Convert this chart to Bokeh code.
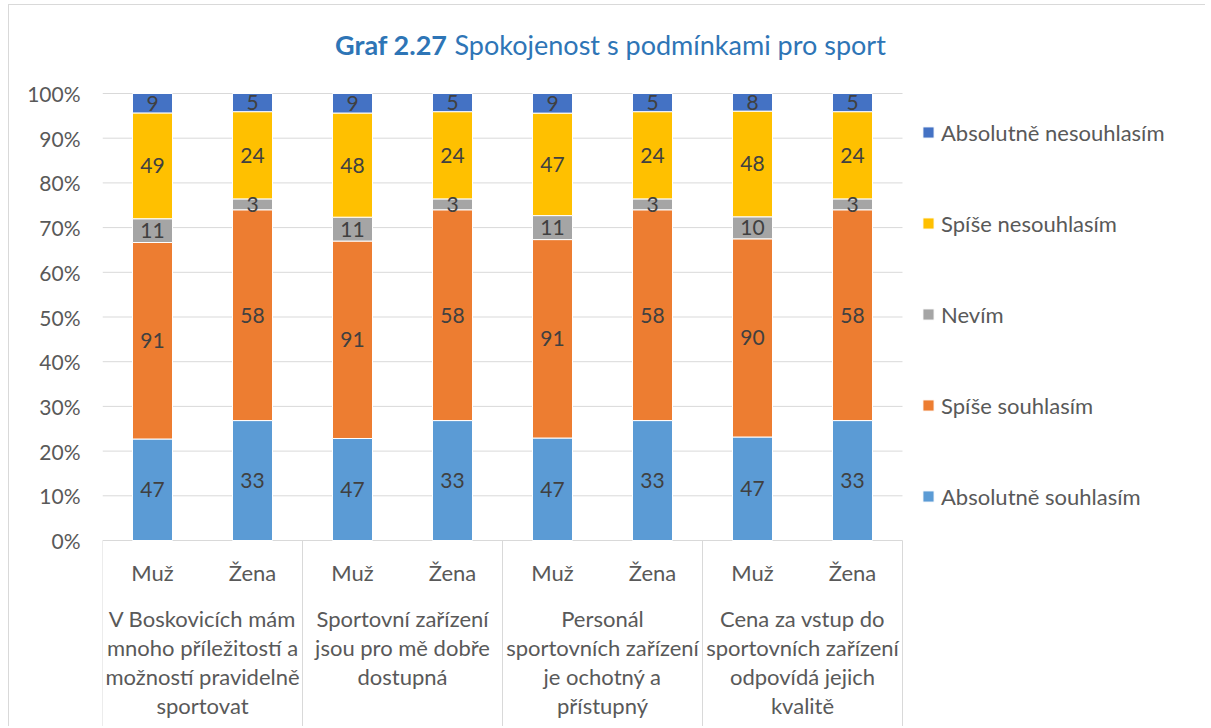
import numpy as np
from bokeh.plotting import figure
from bokeh.models import (ColumnDataSource, Range1d, FixedTicker, NumeralTickFormatter,
                          Legend, LegendItem)
from bokeh.core.properties import value
from bokeh.embed import file_html
from bokeh.resources import INLINE

# ---------------- data ----------------
group_labels = [
    ["V Boskovicích mám", "mnoho příležitostí a", "možností pravidelně", "sportovat"],
    ["Sportovní zařízení", "jsou pro mě dobře", "dostupná"],
    ["Personál", "sportovních zařízení", "je ochotný a", "přístupný"],
    ["Cena za vstup do", "sportovních zařízení", "odpovídá jejich", "kvalitě"],
]
genders = ["Muž", "Žena"]
series_names = ["Absolutně souhlasím", "Spíše souhlasím", "Nevím",
                "Spíše nesouhlasím", "Absolutně nesouhlasím"]
abs_souhlas = [47, 33, 47, 33, 47, 33, 47, 33]
spise_souhlas = [91, 58, 91, 58, 91, 58, 90, 58]
nevim = [11, 3, 11, 3, 11, 3, 10, 3]
spise_nesouhlas = [49, 24, 48, 24, 47, 24, 48, 24]
abs_nesouhlas = [9, 5, 9, 5, 9, 5, 8, 5]
y_ticks = [0.0, 0.1, 0.2, 0.3, 0.4, 0.5, 0.6, 0.7, 0.8, 0.9, 1.0]
title_bold = "Graf 2.27"
title_rest = "Spokojenost s podmínkami pro sport"

colors = ["#5B9BD5", "#ED7D31", "#A5A5A5", "#FFC000", "#4472C4"]
FONT = "Lato"
TEXT_GREY = "#595959"
LABEL_GREY = "#404040"
GRID = "#D9D9D9"

# ---------------- layout ----------------
W, H = 1205, 726
LEFT = 102         # frame left (px inside canvas)
PX_X = 100         # px per category slot
PX_Y = 447         # px per 100 %
TOP = 93           # px from canvas top to the 100 % line

x_end = (W - LEFT) / PX_X
y_end = 1 + TOP / PX_Y
y_start = -(H - TOP - PX_Y) / PX_Y

counts = np.array([abs_souhlas, spise_souhlas, nevim, spise_nesouhlas, abs_nesouhlas], dtype=float)
totals = counts.sum(axis=0)
fracs = counts / totals
n = counts.shape[1]
xs = np.arange(n) + 0.5

keys = ["s%d" % i for i in range(len(series_names))]
src = ColumnDataSource(dict(x=xs, **{k: fracs[i] for i, k in enumerate(keys)}))

p = figure(width=W, height=H, x_range=Range1d(0, x_end), y_range=Range1d(y_start, y_end),
           output_backend="svg", toolbar_location=None, x_axis_location=None,
           min_border_left=LEFT, min_border_right=0, min_border_top=0, min_border_bottom=0)
p.outline_line_color = None
p.xgrid.visible = False
p.ygrid.visible = False
p.background_fill_alpha = 0
p.border_fill_alpha = 0
p.styles = {
    "background": "linear-gradient(#d9d9d9, #d9d9d9) 8px 4px / 1px 100% no-repeat, "
                  "linear-gradient(#d9d9d9, #d9d9d9) 8px 4px / 100% 1px no-repeat, white"
}

# gridlines
grid_y = [t for t in y_ticks if t > 0]
p.segment(x0=[0] * len(grid_y), x1=[n] * len(grid_y), y0=grid_y, y1=grid_y,
          line_color=GRID, line_width=1)
# category axis line + separators
p.segment(x0=[0], x1=[n], y0=[0], y1=[0], line_color=GRID, line_width=1)
sep_x = list(range(0, n + 1, 2))
p.segment(x0=sep_x, x1=sep_x, y0=[0] * len(sep_x), y1=[y_start] * len(sep_x),
          line_color=GRID, line_width=1)

# bars
rends = p.vbar_stack(keys, x="x", width=0.4, color=colors, source=src,
                     line_color="white", line_width=1)

# data labels
lx, ly, lt = [], [], []
cum = np.zeros(n)
for i in range(len(series_names)):
    mid = cum + fracs[i] / 2
    for j in range(n):
        lx.append(xs[j]); ly.append(mid[j]); lt.append(str(int(counts[i, j])))
    cum = cum + fracs[i]
p.text(x=lx, y=ly, text=lt, text_align="center", text_baseline="middle",
       text_font=value(FONT), text_font_size="21px", text_color=LABEL_GREY)

# gender labels
p.text(x=list(xs), y=[-0.0716] * n, text=genders * (n // 2), text_align="center",
       text_baseline="middle", text_font=value(FONT), text_font_size="22px",
       text_color=TEXT_GREY)

# group labels (multi-line)
gx, gy, gt = [], [], []
for gi, lines in enumerate(group_labels):
    for li, line in enumerate(lines):
        gx.append(2 * gi + 1)
        gy.append(-0.174 - li * 0.0649)
        gt.append(line)
p.text(x=gx, y=gy, text=gt, text_align="center", text_baseline="middle",
       text_font=value(FONT), text_font_size="22px", text_color=TEXT_GREY)

# title
p.text(x=[3.45], y=[1.1096], text=[title_bold], text_align="right", text_baseline="alphabetic",
       text_font=value(FONT), text_font_size="27px", text_font_style="bold",
       text_color="#2E75B6")
p.text(x=[3.52], y=[1.1096], text=[title_rest], text_align="left", text_baseline="alphabetic",
       text_font=value(FONT), text_font_size="27px", text_color="#2E75B6")

# y axis
ax = p.yaxis[0]
ax.ticker = FixedTicker(ticks=y_ticks)
ax.formatter = NumeralTickFormatter(format="0%")
ax.major_label_text_font = FONT
ax.major_label_text_font_size = "21px"
ax.major_label_text_color = TEXT_GREY
ax.axis_line_color = None
ax.major_tick_line_color = None
ax.minor_tick_line_color = None
ax.major_tick_out = 0
ax.major_tick_in = 0
ax.major_label_standoff = 22

# legend
items = [LegendItem(label=series_names[i], renderers=[rends[i]])
         for i in reversed(range(len(series_names)))]
legend = Legend(items=items, location=(819, H - 510), orientation="vertical",
                glyph_width=14, glyph_height=14, label_height=28, label_standoff=6,
                spacing=63, padding=0, margin=0, border_line_color=None,
                background_fill_alpha=0, label_text_font=FONT,
                label_text_font_size="22px", label_text_color=TEXT_GREY)
p.add_layout(legend)

open("out.html", "w").write(file_html(p, INLINE))
